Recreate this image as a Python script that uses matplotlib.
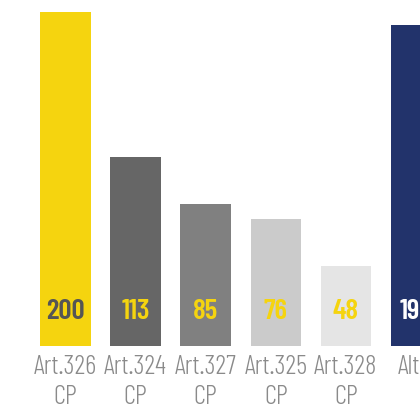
import matplotlib
matplotlib.use('Agg')
import matplotlib.pyplot as plt

categories = ['Art.326\nCP', 'Art.324\nCP', 'Art.327\nCP', 'Art.325\nCP', 'Art.328\nCP', 'Altri']
values = [200, 113, 85, 76, 48, 192]
bar_colors = ['#F5D40F', '#666666', '#808080', '#CBCBCB', '#E5E5E5', '#22336B']
label_colors = ['#555555', '#F5D40F', '#F5D40F', '#F5D40F', '#F5D40F', '#FFFFFF']

fam = ['Barlow Condensed', 'DejaVu Sans']

fig = plt.figure(figsize=(4.2, 4.1), dpi=100)
ax = fig.add_axes([0, 63 / 410, 1, 347 / 410])

x = list(range(len(values)))
ax.bar(x, values, width=0.72, color=bar_colors)

# valori in basso dentro le barre
for i, v in enumerate(values):
    ax.text(i, 21.5, str(v), ha='center', va='center', fontsize=21,
            fontweight=600, color=label_colors[i], family=fam)

ax.set_xlim(-0.934, 5.057)
ax.set_ylim(0, 347 / 1.67)
ax.set_xticks(x)
ax.set_xticklabels(categories, fontsize=19.5, color='#8A8A8A', family=fam,
                   fontweight=300, linespacing=1.3)
ax.tick_params(axis='x', length=0, pad=6)
ax.set_yticks([])
for s in ax.spines.values():
    s.set_visible(False)

fig.savefig('out.png', dpi=100)
